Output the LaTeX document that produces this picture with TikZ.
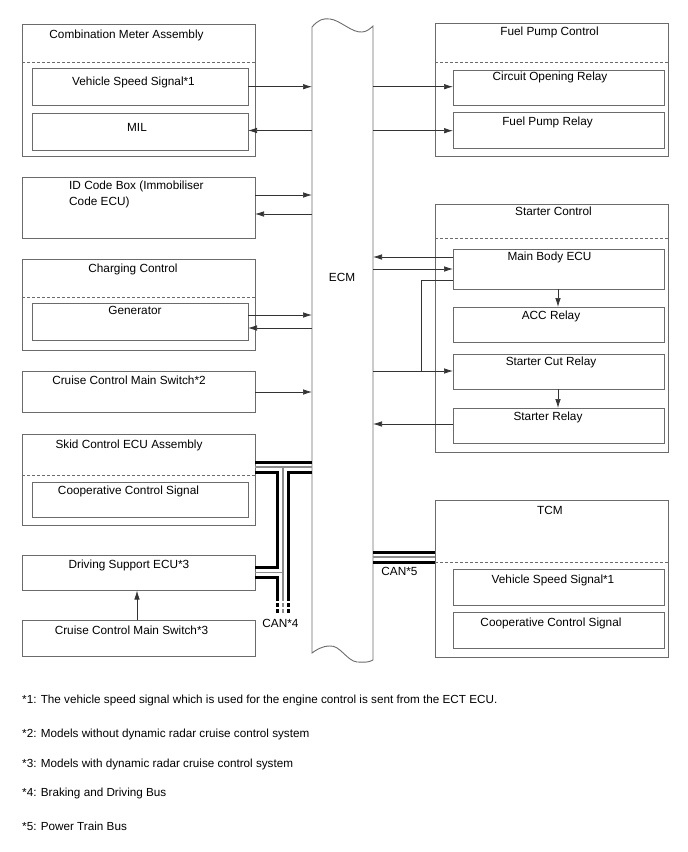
\documentclass[tikz,border=0pt]{standalone}
\usepackage{fontspec}
\setmainfont{Liberation Sans}
\usetikzlibrary{arrows.meta}
\definecolor{boxgray}{gray}{0.42}
\definecolor{busgray}{gray}{0.55}
\newcommand\bx[5]{\node[box, anchor=north west, minimum width={(#4-#2)*1pt}, minimum height={(#5-#3)*1pt}] (#1) at (#2,#3) {};}
\begin{document}
\begin{tikzpicture}[x=1pt,y=-1pt,
  box/.style={draw=boxgray, line width=0.9pt, inner sep=0pt, outer sep=0pt},
  sep/.style={draw=boxgray, line width=0.8pt, dash pattern=on 3pt off 2pt},
  lbl/.style={anchor=base, inner sep=0pt, font=\fontsize{11.8}{16}\selectfont},
  note/.style={anchor=base west, inner sep=0pt, font=\fontsize{11.7}{14}\selectfont},
  arr/.style={draw=black!80, line width=0.7pt, -{Latex[length=9pt,width=5.5pt]}},
  wire/.style={draw=black!80, line width=0.7pt},
  busb/.style={draw=black, line width=3pt},
  busg/.style={draw=busgray, line width=1.2pt}]
\useasboundingbox (0,0) rectangle (688,852);

% ---------- ECM ----------
\node[inner sep=0pt, outer sep=0pt, anchor=north west, minimum width=61pt, minimum height=640pt] (ecm) at (312,20) {};
\draw[draw=boxgray, line width=0.9pt]
  (312,27) .. controls (318,20) and (323,18) .. (330,19)
  .. controls (340,20) and (352,33) .. (362,32)
  .. controls (366,32) and (370,29) .. (373,26)
  -- (373,660)
  .. controls (368,663) and (363,662) .. (357,662)
  .. controls (347,661) and (340,645) .. (330,646)
  .. controls (322,646) and (316,650) .. (312,653) -- cycle;
\node[lbl] (ecmt) at (342,281) {ECM};

% ---------- left column ----------
\bx{cma}{22}{24}{255}{156}
\draw[sep] (cma.west |- 0,62.5) -- (cma.east |- 0,62.5);
\node[lbl] (cmat) at (126.5,38.3) {Combination Meter Assembly};
\bx{vss1}{32}{68.5}{248}{105}
\node[lbl] (vss1t) at (133.5,85.7) {Vehicle Speed Signal*1};
\bx{mil}{32}{113.5}{248}{150}
\node[lbl] (milt) at (137,131.7) {MIL};

\bx{idc}{22}{177}{255}{238}
\node[anchor=north west, inner sep=0pt, align=left, font=\fontsize{11.8}{16}\selectfont] (idct) at (69,181) {ID Code Box (Immobiliser\\Code ECU)};

\bx{chg}{22}{259.5}{255}{350}
\draw[sep] (chg.west |- 0,297) -- (chg.east |- 0,297);
\node[lbl] (chgt) at (133,272.7) {Charging Control};
\bx{gen}{32}{303.5}{248}{340}
\node[lbl] (gent) at (135,314) {Generator};

\bx{ccm2}{22}{371}{255}{412.5}
\node[lbl] (ccm2t) at (129,384) {Cruise Control Main Switch*2};

\bx{skid}{22}{434}{255}{525}
\draw[sep] (skid.west |- 0,475.5) -- (skid.east |- 0,475.5);
\node[lbl] (skidt) at (129,448.3) {Skid Control ECU Assembly};
\bx{coop1}{32}{482}{248}{517.5}
\node[lbl] (coop1t) at (128.5,494) {Cooperative Control Signal};

\bx{dse}{22}{555.5}{255}{590.5}
\node[lbl] (dset) at (129,568.3) {Driving Support ECU*3};

\bx{ccm3}{22}{620}{255}{656}
\node[lbl] (ccm3t) at (131.5,634) {Cruise Control Main Switch*3};

% ---------- right column ----------
\bx{fpc}{435}{23.5}{668}{156.5}
\draw[sep] (fpc.west |- 0,62.7) -- (fpc.east |- 0,62.7);
\node[lbl] (fpct) at (549.5,35.7) {Fuel Pump Control};
\bx{cor}{453}{70}{664}{105}
\node[lbl] (cort) at (550,80.7) {Circuit Opening Relay};
\bx{fpr}{453}{112.5}{664}{148}
\node[lbl] (fprt) at (547.5,125.7) {Fuel Pump Relay};

\bx{stc}{435}{204.5}{668}{452}
\draw[sep] (stc.west |- 0,238) -- (stc.east |- 0,238);
\node[lbl] (stct) at (553.5,215) {Starter Control};
\bx{mbe}{453}{249}{664}{289}
\node[lbl] (mbet) at (549.5,260.7) {Main Body ECU};
\bx{acc}{453}{307}{664}{342}
\node[lbl] (acct) at (551,319) {ACC Relay};
\bx{scr}{453}{354}{664}{389}
\node[lbl] (scrt) at (551,365) {Starter Cut Relay};
\bx{str}{453}{408}{664}{443}
\node[lbl] (strt) at (548,420) {Starter Relay};

\bx{tcm}{435}{500}{668}{657}
\draw[sep] (tcm.west |- 0,562) -- (tcm.east |- 0,562);
\node[lbl] (tcmt) at (550,514) {TCM};
\bx{vss2}{453}{569}{664}{605}
\node[lbl] (vss2t) at (553,583) {Vehicle Speed Signal*1};
\bx{coop2}{453}{612}{664}{648}
\node[lbl] (coop2t) at (551,626) {Cooperative Control Signal};

% ---------- signal arrows ----------
\draw[arr] (vss1.east |- 0,86.7) -- (ecm.west |- 0,86.7);
\draw[arr] (ecm.west |- 0,130.5) -- (mil.east |- 0,130.5);
\draw[arr] (idc.east |- 0,195) -- (ecm.west |- 0,195);
\draw[arr] (ecm.west |- 0,214) -- (idc.east |- 0,214);
\draw[arr] (gen.east |- 0,315) -- (ecm.west |- 0,315);
\draw[arr] (ecm.west |- 0,328) -- (gen.east |- 0,328);
\draw[arr] (ccm2.east |- 0,392) -- (ecm.west |- 0,392);

\draw[arr] (ecm.east |- 0,86.7) -- (cor.west |- 0,86.7);
\draw[arr] (ecm.east |- 0,130.7) -- (fpr.west |- 0,130.7);
\draw[arr] (mbe.west |- 0,257) -- (ecm.east |- 0,257);
\draw[arr] (ecm.east |- 0,269) -- (mbe.west |- 0,269);
\coordinate (jn) at (421,371);
\draw[wire] (mbe.west |- 0,280) -- (421,280) -- (jn);
\draw[arr] (ecm.east |- 0,371) -- (scr.west |- 0,371);
\draw[arr] (str.west |- 0,424) -- (ecm.east |- 0,424);
\draw[arr] (mbe.south -| 558,0) -- (acc.north -| 558,0);
\draw[arr] (scr.south -| 558,0) -- (str.north -| 558,0);
\draw[arr] (ccm3.north -| 137,0) -- (dse.south -| 137,0);

% ---------- CAN*4 bus ----------
\coordinate (c4) at (283,613);
\draw[busg] (skid.east |- 0,467) -- (ecm.west |- 0,467);
\draw[busg] (283,467) -- (283,597);
\draw[busg] (dse.east |- 0,572.5) -- (283,572.5);
\draw[busb] (skid.east |- 0,462) -- (ecm.west |- 0,462);
\draw[busb, line join=miter] (skid.east |- 0,472) -- (277.5,472) -- (277.5,567.5) -- (dse.east |- 0,567.5);
\draw[busb, line join=miter] (ecm.west |- 0,472) -- (288,472) -- (288,597);
\draw[busb, line join=miter] (dse.east |- 0,577.5) -- (277.5,577.5) -- (277.5,597);
\draw[busb, dash pattern=on 3.5pt off 2.5pt] (277.5,597) -- (277.5,613);
\draw[busb, dash pattern=on 3.5pt off 2.5pt] (288,597) -- (288,613);
\draw[busg, dash pattern=on 3.5pt off 2.5pt] (283,597) -- (c4);
\node[lbl] (can4) at (280.5,627) {CAN*4};

% ---------- CAN*5 bus ----------
\draw[busg] (ecm.east |- 0,557) -- (tcm.west |- 0,557);
\draw[busb] (ecm.east |- 0,552) -- (tcm.west |- 0,552);
\draw[busb] (ecm.east |- 0,562) -- (tcm.west |- 0,562);
\node[lbl] (can5) at (399.5,575.7) {CAN*5};

% ---------- notes ----------
\node[note] (n1) at (22,703) {*1: The vehicle speed signal which is used for the engine control is sent from the ECT ECU.};
\node[note] (n2) at (22,737) {*2: Models without dynamic radar cruise control system};
\node[note] (n3) at (22,767) {*3: Models with dynamic radar cruise control system};
\node[note] (n4) at (22,796) {*4: Braking and Driving Bus};
\node[note] (n5) at (22,830) {*5: Power Train Bus};
\end{tikzpicture}
\end{document}
